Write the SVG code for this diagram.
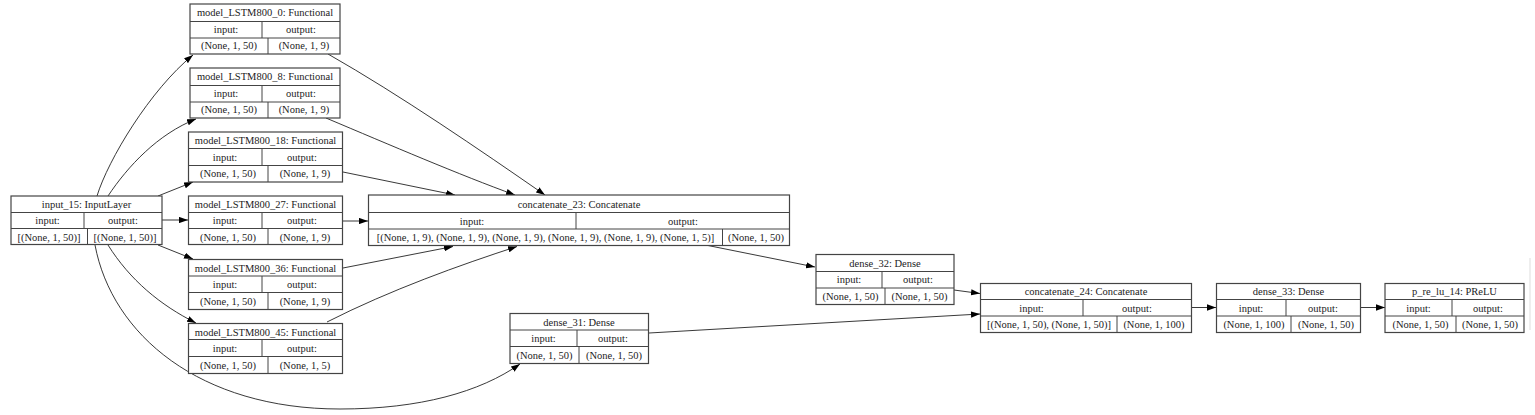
<svg xmlns="http://www.w3.org/2000/svg" width="1535" height="415" viewBox="0 0 1535 415">
<style>
.box{fill:#fff;stroke:#444;stroke-width:1.2}
.ln{stroke:#444;stroke-width:1;fill:none}
.t{font-family:"Liberation Serif","Times New Roman",serif;font-size:10.5px;fill:#222;text-anchor:middle}
.e{stroke:#222;stroke-width:0.9;fill:none;marker-end:url(#ah)}
</style>
<defs>
<marker id="ah" viewBox="0 0 10 7" refX="10" refY="3.5" markerWidth="9" markerHeight="6.3" orient="auto" markerUnits="userSpaceOnUse"><path d="M0,0 L10,3.5 L0,7 z" fill="#000"/></marker>
</defs>
<rect width="1535" height="415" fill="#fff"/>
<line x1="1530" y1="258" x2="1530" y2="330" stroke="#ddd" stroke-width="1"/>

<g id="connectors">
<path class="e" d="M97,196 C108,160 150,90 193,55"/>
<path class="e" d="M108,196 C128,166 158,134 196,119"/>
<path class="e" d="M158,196 L193,182"/>
<path class="e" d="M162,220 L188,220"/>
<path class="e" d="M158,245 L193,259"/>
<path class="e" d="M108,245 C130,280 160,305 196,323"/>
<path class="e" d="M95,245 C112,335 200,409 340,409 C420,409 480,392 520,364"/>
<path class="e" d="M328,54 C400,95 480,150 545,195"/>
<path class="e" d="M326,118 C390,145 460,175 515,195"/>
<path class="e" d="M343,172 L455,195"/>
<path class="e" d="M342,221 L368,221"/>
<path class="e" d="M343,268 L453,246.5"/>
<path class="e" d="M327,322 C390,290 460,265 517,246.5"/>
<path class="e" d="M708,245.5 L815,267"/>
<path class="e" d="M649,333 L980,314"/>
<path class="e" d="M954,290 L980,293.5"/>
<path class="e" d="M1192,307.5 L1216,307.5"/>
<path class="e" d="M1361,307.5 L1385,307.5"/>
</g>

<g id="input_15">
<rect class="box" x="11" y="196" width="151" height="48.5"/>
<path class="ln" d="M11,212.5 H162 M11,228.5 H162 M84,212.5 V228.5 M87.5,228.5 V244.5"/>
<text class="t" x="86.5" y="208">input_15: InputLayer</text>
<text class="t" x="47.5" y="224">input:</text>
<text class="t" x="123" y="224">output:</text>
<text class="t" x="49" y="240.5">[(None, 1, 50)]</text>
<text class="t" x="125" y="240.5">[(None, 1, 50)]</text>
</g>

<g id="model_LSTM800_0">
<rect class="box" x="190" y="4" width="150" height="50"/>
<path class="ln" d="M190,21.5 H340 M190,38 H340 M262,21.5 V38 M268,38 V54"/>
<text class="t" x="265" y="16">model_LSTM800_0: Functional</text>
<text class="t" x="226" y="32.5">input:</text>
<text class="t" x="301" y="32.5">output:</text>
<text class="t" x="229" y="49.3">(None, 1, 50)</text>
<text class="t" x="304" y="49.3">(None, 1, 9)</text>
</g>

<g id="model_LSTM800_8">
<rect class="box" x="190" y="68" width="150" height="50"/>
<path class="ln" d="M190,85.5 H340 M190,102 H340 M262,85.5 V102 M268,102 V118"/>
<text class="t" x="265" y="80">model_LSTM800_8: Functional</text>
<text class="t" x="226" y="96.5">input:</text>
<text class="t" x="301" y="96.5">output:</text>
<text class="t" x="229" y="113.3">(None, 1, 50)</text>
<text class="t" x="304" y="113.3">(None, 1, 9)</text>
</g>

<g id="model_LSTM800_18">
<rect class="box" x="188.5" y="132" width="154" height="50"/>
<path class="ln" d="M188.5,148.5 H342.5 M188.5,165.5 H342.5 M262,148.5 V165.5 M268,165.5 V182"/>
<text class="t" x="265.5" y="144">model_LSTM800_18: Functional</text>
<text class="t" x="225" y="160.5">input:</text>
<text class="t" x="302" y="160.5">output:</text>
<text class="t" x="228" y="177.3">(None, 1, 50)</text>
<text class="t" x="305" y="177.3">(None, 1, 9)</text>
</g>

<g id="model_LSTM800_27">
<rect class="box" x="188.5" y="196" width="154" height="48.5"/>
<path class="ln" d="M188.5,212.5 H342.5 M188.5,228.5 H342.5 M262,212.5 V228.5 M268,228.5 V244.5"/>
<text class="t" x="265.5" y="208">model_LSTM800_27: Functional</text>
<text class="t" x="225" y="224">input:</text>
<text class="t" x="302" y="224">output:</text>
<text class="t" x="228" y="240.5">(None, 1, 50)</text>
<text class="t" x="305" y="240.5">(None, 1, 9)</text>
</g>

<g id="model_LSTM800_36">
<rect class="box" x="188.5" y="259.5" width="154" height="50"/>
<path class="ln" d="M188.5,276 H342.5 M188.5,292.5 H342.5 M262,276 V292.5 M268,292.5 V309.5"/>
<text class="t" x="265.5" y="271.5">model_LSTM800_36: Functional</text>
<text class="t" x="225" y="288">input:</text>
<text class="t" x="302" y="288">output:</text>
<text class="t" x="228" y="304.8">(None, 1, 50)</text>
<text class="t" x="305" y="304.8">(None, 1, 9)</text>
</g>

<g id="model_LSTM800_45">
<rect class="box" x="188.5" y="323.5" width="154" height="50"/>
<path class="ln" d="M188.5,339.5 H342.5 M188.5,356.5 H342.5 M262,339.5 V356.5 M268,356.5 V373.5"/>
<text class="t" x="265.5" y="335.5">model_LSTM800_45: Functional</text>
<text class="t" x="225" y="352">input:</text>
<text class="t" x="302" y="352">output:</text>
<text class="t" x="228" y="368.8">(None, 1, 50)</text>
<text class="t" x="305" y="368.8">(None, 1, 5)</text>
</g>

<g id="concatenate_23">
<rect class="box" x="368.5" y="195" width="421" height="50.5"/>
<path class="ln" d="M368.5,212.5 H789.5 M368.5,229 H789.5 M576,212.5 V229 M722.5,229 V245.5"/>
<text class="t" x="579" y="207.5">concatenate_23: Concatenate</text>
<text class="t" x="472" y="224.5">input:</text>
<text class="t" x="683" y="224.5">output:</text>
<text class="t" x="545.5" y="241">[(None, 1, 9), (None, 1, 9), (None, 1, 9), (None, 1, 9), (None, 1, 9), (None, 1, 5)]</text>
<text class="t" x="756" y="241">(None, 1, 50)</text>
</g>

<g id="dense_32">
<rect class="box" x="816" y="254.5" width="138" height="50"/>
<path class="ln" d="M816,271.5 H954 M816,288 H954 M882,271.5 V288 M885,288 V304.5"/>
<text class="t" x="885" y="266.5">dense_32: Dense</text>
<text class="t" x="849" y="283">input:</text>
<text class="t" x="918" y="283">output:</text>
<text class="t" x="850.5" y="300">(None, 1, 50)</text>
<text class="t" x="919.5" y="300">(None, 1, 50)</text>
</g>

<g id="dense_31">
<rect class="box" x="510" y="313.5" width="138.5" height="50"/>
<path class="ln" d="M510,330 H648.5 M510,346.5 H648.5 M577,330 V346.5 M579,346.5 V363.5"/>
<text class="t" x="579" y="325.5">dense_31: Dense</text>
<text class="t" x="543.5" y="342">input:</text>
<text class="t" x="613" y="342">output:</text>
<text class="t" x="544.5" y="359">(None, 1, 50)</text>
<text class="t" x="614" y="359">(None, 1, 50)</text>
</g>

<g id="concatenate_24">
<rect class="box" x="980.5" y="283.5" width="211" height="49"/>
<path class="ln" d="M980.5,299.5 H1191.5 M980.5,316 H1191.5 M1083,299.5 V316 M1117,316 V332.5"/>
<text class="t" x="1086" y="295">concatenate_24: Concatenate</text>
<text class="t" x="1031.5" y="311.5">input:</text>
<text class="t" x="1137" y="311.5">output:</text>
<text class="t" x="1049" y="328">[(None, 1, 50), (None, 1, 50)]</text>
<text class="t" x="1154" y="328">(None, 1, 100)</text>
</g>

<g id="dense_33">
<rect class="box" x="1216.5" y="283.5" width="144" height="49"/>
<path class="ln" d="M1216.5,299.5 H1360.5 M1216.5,316 H1360.5 M1286,299.5 V316 M1291,316 V332.5"/>
<text class="t" x="1288.5" y="295">dense_33: Dense</text>
<text class="t" x="1251" y="311.5">input:</text>
<text class="t" x="1323" y="311.5">output:</text>
<text class="t" x="1254" y="328">(None, 1, 100)</text>
<text class="t" x="1326" y="328">(None, 1, 50)</text>
</g>

<g id="p_re_lu_14">
<rect class="box" x="1385" y="283.5" width="139" height="49"/>
<path class="ln" d="M1385,299.5 H1524 M1385,316 H1524 M1452,299.5 V316 M1456,316 V332.5"/>
<text class="t" x="1454.5" y="295">p_re_lu_14: PReLU</text>
<text class="t" x="1418.5" y="311.5">input:</text>
<text class="t" x="1488" y="311.5">output:</text>
<text class="t" x="1420.5" y="328">(None, 1, 50)</text>
<text class="t" x="1490" y="328">(None, 1, 50)</text>
</g>
</svg>
